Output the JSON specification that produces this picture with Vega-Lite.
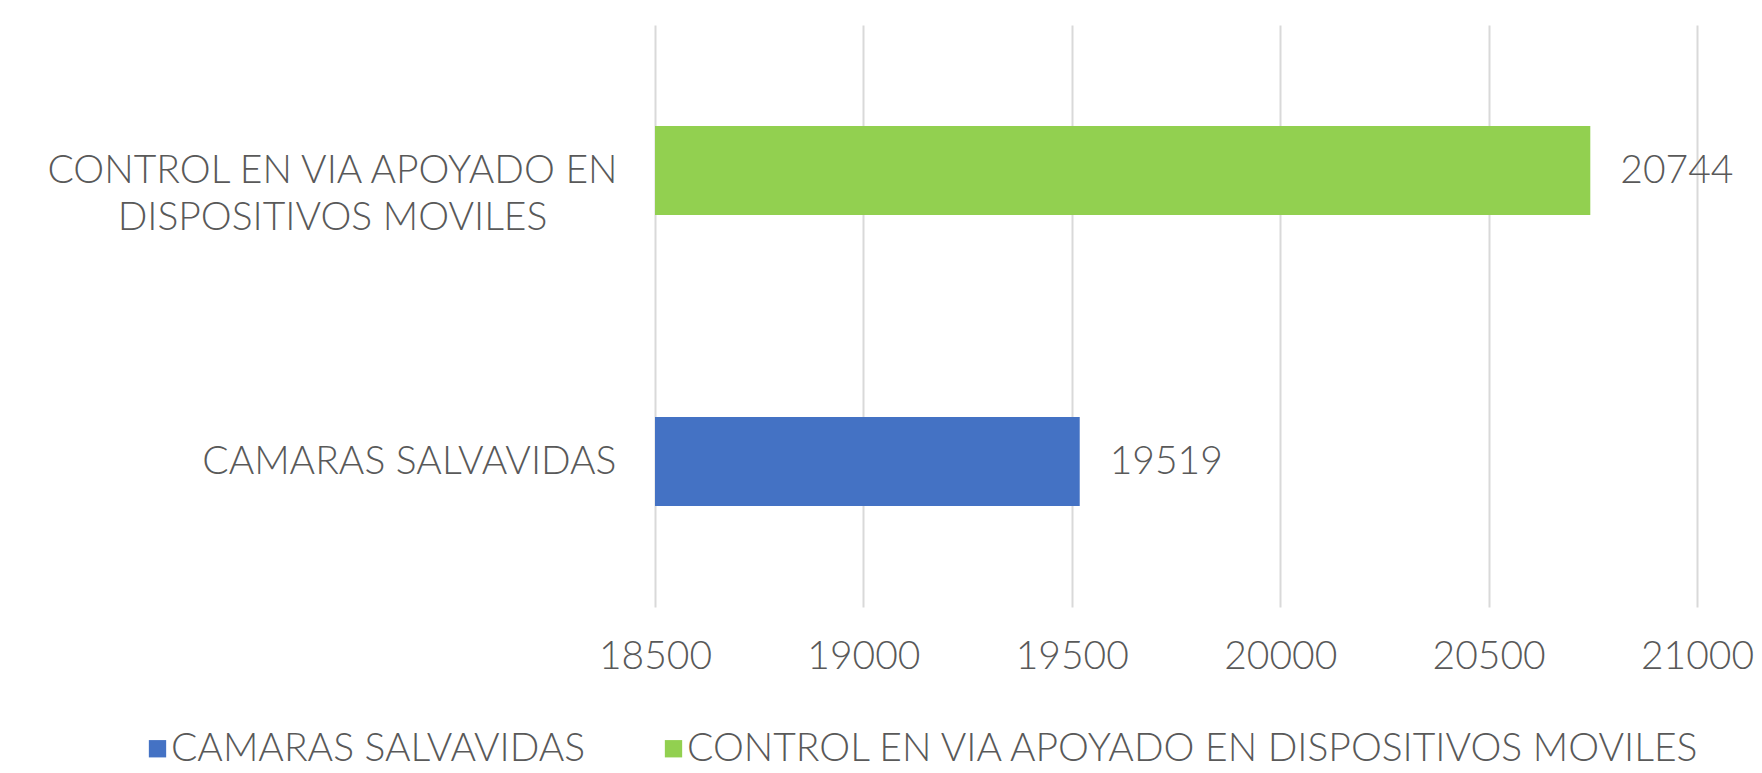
{
  "$schema": "https://vega.github.io/schema/vega-lite/v6.json",
  "autosize": {"type": "none"},
  "padding": {"left": 655, "top": 25, "right": 65, "bottom": 166},
  "width": 1042,
  "height": 582,
  "background": "white",
  "config": {
    "view": {"stroke": null},
    "font": "Lato",
    "text": {"font": "Lato"}
  },
  "data": {
    "values": [
      {"categoria": "CAMARAS SALVAVIDAS", "valor": 19519},
      {"categoria": "CONTROL EN VIA APOYADO EN DISPOSITIVOS MOVILES", "valor": 20744}
    ]
  },
  "encoding": {
    "y": {
      "field": "categoria",
      "type": "nominal",
      "sort": ["CONTROL EN VIA APOYADO EN DISPOSITIVOS MOVILES", "CAMARAS SALVAVIDAS"],
      "scale": {"paddingInner": 0.694, "paddingOuter": 0.347},
      "axis": {
        "title": null,
        "domain": false,
        "ticks": false,
        "labelFont": "Lato",
        "labelFontSize": 39,
        "labelFontWeight": 300,
        "labelColor": "#595959",
        "labelLimit": 700,
        "labelLineHeight": 47,
        "labelBaseline": "middle",
        "labelExpr": "datum.value == 'CONTROL EN VIA APOYADO EN DISPOSITIVOS MOVILES' ? ['CONTROL EN VIA APOYADO EN', 'DISPOSITIVOS MOVILES'] : datum.value",
        "labelAlign": {"condition": {"test": "datum.value == 'CAMARAS SALVAVIDAS'", "value": "right"}, "value": "center"},
        "labelPadding": {"condition": {"test": "datum.value == 'CAMARAS SALVAVIDAS'", "value": 39}, "value": 323}
      }
    }
  },
  "layer": [
    {
      "mark": {"type": "bar"},
      "encoding": {
        "x": {
          "field": "valor",
          "type": "quantitative",
          "scale": {"domain": [18500, 21000], "zero": false, "nice": false},
          "axis": {
            "title": null,
            "values": [18500, 19000, 19500, 20000, 20500, 21000],
            "format": "d",
            "domain": false,
            "ticks": false,
            "grid": true,
            "gridColor": "#D9D9D9",
            "gridWidth": 2,
            "labelFont": "Lato",
            "labelFontSize": 39,
            "labelFontWeight": 300,
            "labelColor": "#595959",
            "labelPadding": 30,
            "labelFlush": false
          }
        },
        "x2": {"datum": 18500},
        "color": {
          "field": "categoria",
          "type": "nominal",
          "sort": ["CAMARAS SALVAVIDAS", "CONTROL EN VIA APOYADO EN DISPOSITIVOS MOVILES"],
          "scale": {"domain": ["CAMARAS SALVAVIDAS", "CONTROL EN VIA APOYADO EN DISPOSITIVOS MOVILES"], "range": ["#4472C4", "#92D050"]},
          "legend": {
            "title": null,
            "orient": "none",
            "direction": "horizontal",
            "legendX": -517,
            "legendY": 704,
            "symbolType": "square",
            "symbolSize": 300,
            "symbolStrokeWidth": 0,
            "symbolOpacity": 1,
            "labelFont": "Lato",
            "labelFontSize": 39,
            "labelFontWeight": 300,
            "labelColor": "#595959",
            "labelLimit": 1200,
            "labelOffset": -6,
            "columnPadding": 68
          }
        }
      }
    },
    {
      "mark": {"type": "text", "align": "left", "baseline": "middle", "dx": 30, "fontSize": 39, "font": "Lato", "fontWeight": 300, "color": "#595959"},
      "encoding": {
        "x": {"field": "valor", "type": "quantitative"},
        "text": {"field": "valor", "type": "quantitative", "format": "d"}
      }
    }
  ]
}
